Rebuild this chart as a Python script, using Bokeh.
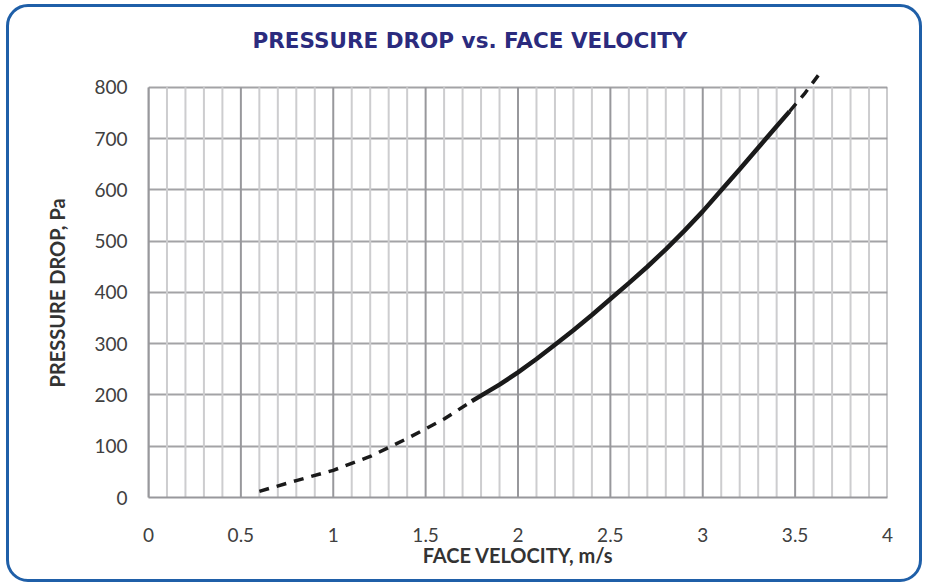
import numpy as np
from bokeh.plotting import figure
from bokeh.models import Range1d, FixedTicker, Title
from bokeh.embed import file_html
from bokeh.resources import INLINE

# ---- data ----
dash_low_v = [0.60, 0.80, 1.00, 1.20, 1.40, 1.60, 1.75]
dash_low_p = [12, 33, 53, 80, 115, 153, 188]
solid_v = [1.75, 1.90, 2.00, 2.10, 2.20, 2.30, 2.40, 2.50, 2.60, 2.70, 2.80, 2.90,
           3.00, 3.10, 3.20, 3.30, 3.40, 3.47]
solid_p = [188, 220, 244, 270, 298, 326, 356, 387, 418, 450, 484, 520,
           558, 599, 640, 682, 724, 753]
dash_high_v = [3.47, 3.55, 3.65]
dash_high_p = [753, 787, 835]

x_major = [0, 0.5, 1, 1.5, 2, 2.5, 3, 3.5, 4]
x_minor = [round(v, 1) for v in np.arange(0, 4.01, 0.1) if round(v * 10) % 5 != 0]
y_major = [0, 100, 200, 300, 400, 500, 600, 700, 800]

title_text = "PRESSURE DROP vs. FACE VELOCITY"
x_title = "FACE VELOCITY, m/s"
y_title = "PRESSURE DROP, Pa"

FONT = "Lato"

p = figure(width=916, height=578, output_backend="svg", toolbar_location=None,
           x_range=Range1d(0, 4), y_range=Range1d(0, 860),
           min_border_left=139, min_border_right=38, min_border_top=49, min_border_bottom=88)
p.outline_line_color = None
p.border_fill_color = None
p.background_fill_color = "white"
p.styles = {"border": "3px solid #1f5fa8", "border-radius": "22px", "overflow": "hidden",
            "background-color": "white", "margin": "4px 0px 0px 6px"}

p.title.text = title_text
p.title.align = "left"
p.title.offset = 104
p.title.text_font = "DejaVu Sans"
p.title.text_font_style = "bold"
p.title.text_font_size = "21.5px"
p.title.text_color = "#2b2b7e"
p.title.standoff = 8

p.xgrid.visible = False
p.ygrid.ticker = FixedTicker(ticks=y_major)
p.ygrid.grid_line_color = "#a3a3a6"
p.ygrid.grid_line_width = 2

# vertical grid lines (minor then major)
p.segment(x0=x_minor, y0=[0] * len(x_minor), x1=x_minor, y1=[800] * len(x_minor),
          line_color="#cdcdcf", line_width=2)
p.segment(x0=x_major, y0=[0] * len(x_major), x1=x_major, y1=[800] * len(x_major),
          line_color="#98989c", line_width=2)

# curve
p.line(dash_low_v, dash_low_p, line_color="#1a1a1a", line_width=3.5, line_dash="10 8")
p.line(solid_v, solid_p, line_color="#1a1a1a", line_width=4.5)
p.line(dash_high_v, dash_high_p, line_color="#1a1a1a", line_width=3.5, line_dash="10 8")

# axes
for ax in (p.xaxis[0], p.yaxis[0]):
    ax.axis_line_color = "#98989c"
    ax.axis_line_width = 2
    ax.major_tick_line_color = None
    ax.minor_tick_line_color = None
    ax.major_label_text_font = FONT
    ax.major_label_text_font_size = "19px"
    ax.major_label_text_color = "#404040"
    ax.axis_label_text_font = FONT
    ax.axis_label_text_font_size = "20px"
    ax.axis_label_text_font_style = "bold"
    ax.axis_label_text_color = "#333333"

p.xaxis.ticker = FixedTicker(ticks=x_major)
p.xaxis.major_label_overrides = {0: "0", 1: "1", 2: "2", 3: "3", 4: "4"}
p.xaxis.major_label_standoff = 24
p.xaxis.axis_label = x_title
p.xaxis.axis_label_standoff = -2

p.yaxis.ticker = FixedTicker(ticks=y_major)
p.yaxis.bounds = (0, 800)
p.yaxis.major_label_standoff = 15

ytitle = Title(text=y_title, align="left", offset=110, text_font=FONT,
               text_font_style="bold", text_font_size="20px", text_color="#333333",
               standoff=46)
p.add_layout(ytitle, "left")

open("out.html", "w").write(file_html(p, INLINE))
